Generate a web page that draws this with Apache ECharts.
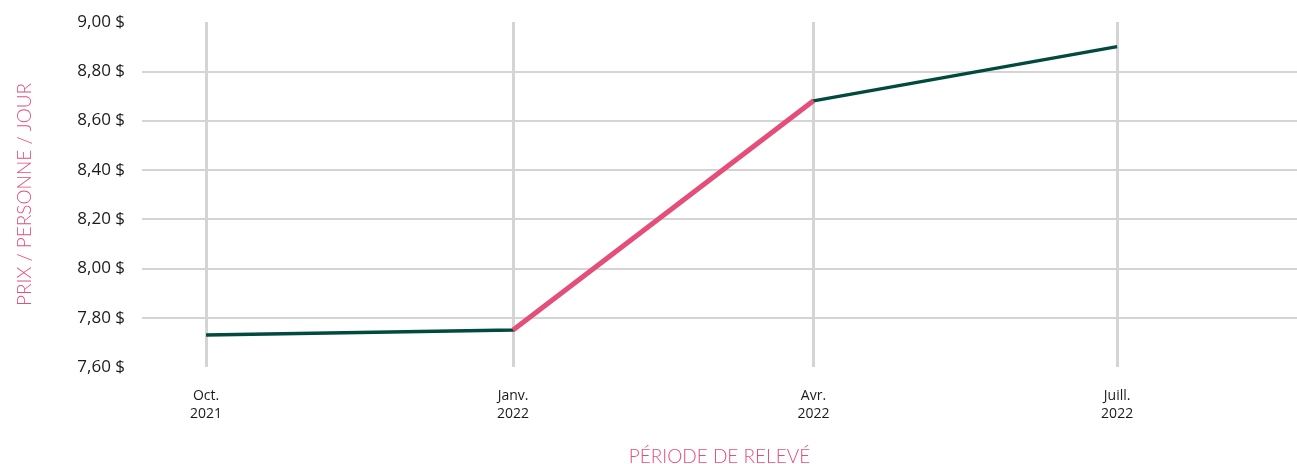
<!DOCTYPE html>
<html>
<head>
<meta charset="utf-8">
<script src="https://cdn.jsdelivr.net/npm/echarts@6/dist/echarts.min.js"></script>
<style>
html,body{margin:0;padding:0;background:#fff;}
#c{width:1297px;height:464px;}
</style>
</head>
<body>
<div id="c"></div>
<script>
// Data
var dates = ['2021-10-01', '2022-01-01', '2022-04-01', '2022-07-01'];
var tickLabels = ['Oct.\n2021', 'Janv.\n2022', 'Avr.\n2022', 'Juill.\n2022'];
var prices = [7.73, 7.75, 8.68, 8.90];
var highlight = [null, 7.75, 8.68, null];

function ts(s) { var p = s.split('-'); return Date.UTC(+p[0], +p[1] - 1, +p[2]); }
var times = dates.map(ts);
var DAY = 86400000;

var chart = echarts.init(document.getElementById('c'), null, {renderer: 'canvas'});
var pink = '#e54e79';
var green = '#004a3e';
var font = 'Lato, "Open Sans", sans-serif';

chart.setOption({
  animation: false,
  grid: {left: 142, right: 0, top: 22, bottom: 97, containLabel: false, outerBoundsMode: 'none'},
  xAxis: {
    type: 'value',
    scale: true,
    min: times[0] - 19.2 * DAY,
    max: times[3] + 53.9 * DAY,
    name: 'PÉRIODE DE RELEVÉ',
    nameLocation: 'middle',
    nameGap: 80,
    nameTextStyle: {color: pink, fontSize: 19, fontFamily: font, fontWeight: 300},
    axisLine: {show: false},
    axisTick: {show: false, customValues: times},
    axisLabel: {
      customValues: times,
      margin: 20,
      color: '#1a1a1a',
      fontSize: 14,
      fontFamily: '"Open Sans", sans-serif',
      lineHeight: 18,
      formatter: function (v) { var i = times.indexOf(v); return i >= 0 ? tickLabels[i] : ''; }
    },
    splitLine: {show: true, lineStyle: {color: '#d4d4d4', width: 3}}
  },
  yAxis: {
    type: 'value',
    min: 7.6,
    max: 9.0,
    interval: 0.2,
    name: 'PRIX / PERSONNE / JOUR',
    nameLocation: 'middle',
    nameGap: 108,
    nameRotate: 90,
    nameTextStyle: {color: pink, fontSize: 19, fontFamily: font, fontWeight: 300},
    axisLine: {show: false},
    axisTick: {show: false},
    axisLabel: {
      margin: 17,
      color: '#1a1a1a',
      fontSize: 17,
      fontFamily: '"Open Sans", sans-serif',
      formatter: function (v) { return v.toFixed(2).replace('.', ',') + ' $'; }
    },
    splitLine: {show: true, showMinLine: false, showMaxLine: false, lineStyle: {color: '#d4d4d4', width: 2}}
  },
  series: [
    {
      type: 'line',
      data: times.map(function (t, i) { return [t, prices[i]]; }),
      showSymbol: false,
      symbol: 'none',
      lineStyle: {color: green, width: 3.5},
      z: 3
    },
    {
      type: 'line',
      data: times.map(function (t, i) { return [t, highlight[i]]; }),
      showSymbol: false,
      symbol: 'none',
      connectNulls: false,
      lineStyle: {color: pink, width: 5},
      z: 4
    }
  ]
});
</script>
</body>
</html>
